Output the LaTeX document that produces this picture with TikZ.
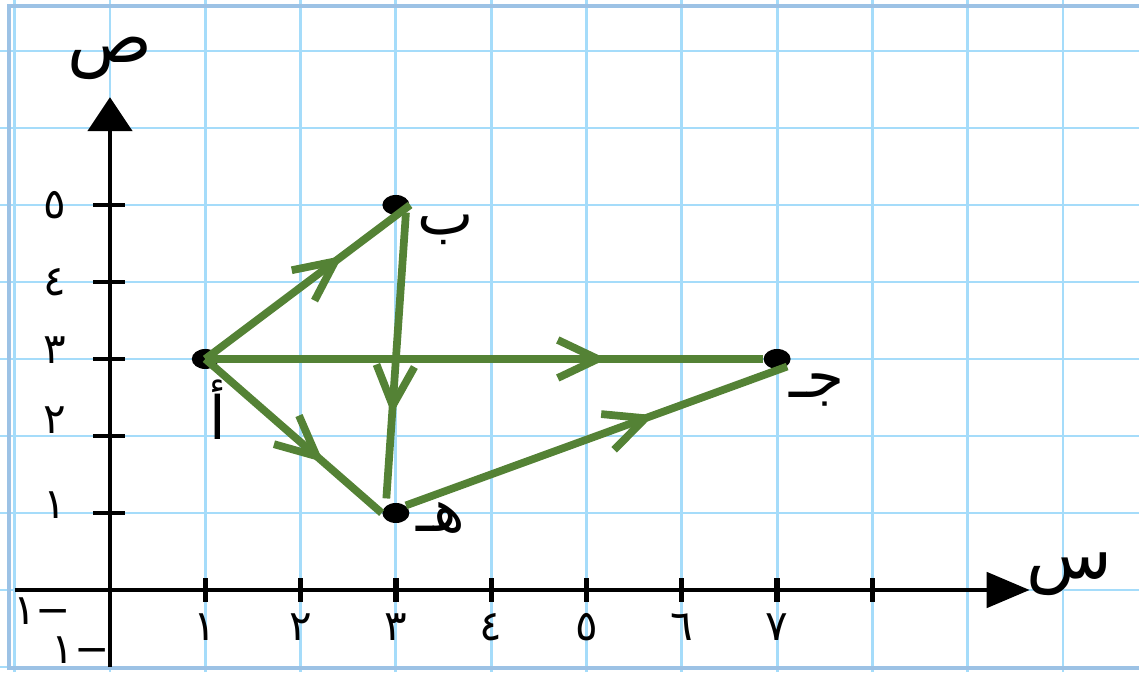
\documentclass[tikz,border=0pt]{standalone}
\usepackage{fontspec}
\usepackage{tikz}
\usetikzlibrary{arrows.meta,shapes.geometric,decorations.markings}
\newfontfamily\arabicfont[Script=Arabic]{DejaVu Sans}
\TeXXeTstate=1
\definecolor{gridblue}{HTML}{A5DCFA}
\definecolor{frameblue}{HTML}{9CC2E5}
\definecolor{vecgreen}{HTML}{548235}
\newcommand{\artxt}[1]{{\arabicfont\beginR #1\endR}}

\begin{document}
\begin{tikzpicture}[x=0.953cm, y=0.77cm,
	dot/.style={ellipse, fill=black, inner sep=0pt, minimum width=2.7mm, minimum height=2mm},
	lab/.style={font=\fontsize{17}{19}\selectfont, inner sep=0pt},
	axlab/.style={font=\fontsize{20}{22}\selectfont, inner sep=0pt},
	num/.style={font=\fontsize{12}{14}\selectfont, inner sep=0pt},
	vec/.style={vecgreen, line width=2.2pt, postaction={decorate},
		decoration={markings, mark=at position #1 with {\arrow{Straight Barb[length=4mm,width=3.8mm]}}}},
	vec/.default=0.67]
	\useasboundingbox (-1.154,-1.065) rectangle (10.797,7.662);
	% squared paper
	\foreach \i in {-1,...,10} {\draw[gridblue, line width=0.8pt] (\i,-1.065) -- (\i,7.662);}
	\foreach \j in {-1,...,7} {\draw[gridblue, line width=0.8pt] (-1.154,\j) -- (10.797,\j);}
	\draw[frameblue, line width=1.2pt] (10.797,7.584) -| (-1.06,-1.01) -- (10.797,-1.01);
	% axes
	\draw[line width=1.4pt, -{Triangle[length=4.3mm,width=3.5mm]}] (-1,0) -- (9.65,0);
	\draw[line width=1.4pt, -{Triangle[length=3.4mm,width=4.4mm]}] (0,-1) -- (0,6.4);
	\foreach \i in {1,...,8} {\draw[line width=1.5pt] (\i,-0.155) -- (\i,0.155);}
	\foreach \j in {1,...,5} {\draw[line width=1.2pt] (-0.18,\j) -- (0.16,\j);}
	\foreach \i/\d in {1/١,2/٢,3/٣,4/٤,5/٥,6/٦,7/٧} {\node[num] (x\i) at (\i,-0.48) {\artxt{\d}};}
	\foreach \j/\d/\yy in {1/١/1.1,2/٢/2.2,3/٣/3.12,4/٤/4,5/٥/5} {\node[num] (y\j) at (-0.58,\yy) {\artxt{\d}};}
	\node[num] (xneg) at (-0.71,-0.27) {\artxt{−١}};
	\node[num] (yneg) at (-0.31,-0.78) {\artxt{−١}};
	\node[axlab] (ly) at (0,6.9) {\artxt{ص}};
	\node[axlab] (lx) at (10.07,0.2) {\artxt{س}};
	% points
	\node[dot] (A) at (1,3) {};
	\node[dot] (B) at (3,5) {};
	\node[dot] (C) at (7,3) {};
	\node[dot] (E) at (3,1) {};
	\node[lab] (lA) at (1.13,2.34) {\artxt{أ}};
	\node[lab] (lB) at (3.52,4.68) {\artxt{ب}};
	\node[lab] (lC) at (7.42,2.6) {\artxt{جـ}};
	\node[lab] (lE) at (3.47,0.93) {\artxt{هـ}};
	% vectors
	\draw[vec] (A.center) -- (B.east);
	\draw[vec] (A.center) -- (E.west);
	\draw[vec=0.69, shorten >=0.7mm] (B.south east) -- (E.north west);
	\draw[vec=0.72] (A.center) -- (C.west);
	\draw[vec=0.65] (E.north east) -- (C.south east);
\end{tikzpicture}
\end{document}
